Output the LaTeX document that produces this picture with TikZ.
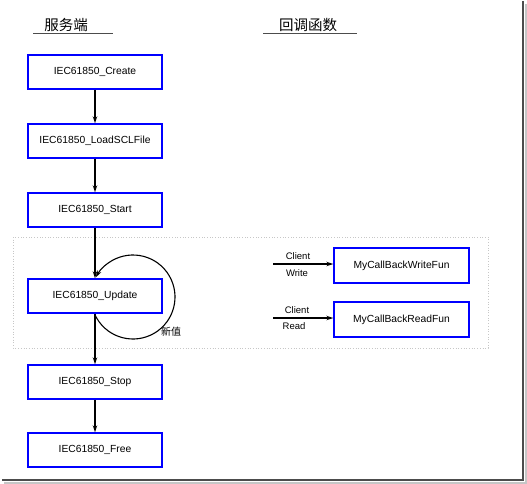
\documentclass[tikz,border=0pt]{standalone}
\usepackage{fontspec}
\setmainfont{Liberation Sans}
\newfontfamily\cjk{Noto Sans CJK SC}
\usetikzlibrary{arrows.meta}
\begin{document}
\begin{tikzpicture}[x=1pt,y=-1pt,
  fn/.style={draw=blue,line width=1.4pt,fill=white,minimum width=134pt,minimum height=34pt,
    inner sep=0pt,font=\fontsize{10.3}{12}\selectfont},
  cb/.style={fn,minimum width=135pt,minimum height=35pt},
  flow/.style={line width=1.1pt,-{Stealth[length=7pt,width=4.5pt]}},
  lbl/.style={inner sep=0pt,font=\fontsize{9.5}{11}\selectfont},
  head/.style={inner sep=0pt,font=\cjk\fontsize{14.5}{16}\selectfont}]
\useasboundingbox (0,0) rectangle (527,484);
\fill[white] (0,0) rectangle (527,484);
% picture frame with shadow on the right and bottom
\draw[gray!45,line width=1.5pt] (526,4) -- (526,483) -- (4,483);
\draw[black!70,line width=1.5pt] (523,1) -- (523,480) -- (2,480);

% headings
\node[head] (hsrv) at (66,25) {服务端};
\draw[black!70,line width=0.6pt] (33,33) -- (113,33);
\node[head] (hcb) at (308,25) {回调函数};
\draw[black!70,line width=0.6pt] (263,33) -- (357,33);

% runtime group
\draw[black!22,dotted,line width=0.7pt] (13,237) rectangle (488,348);

% server call sequence
\node[fn] (create) at (95,72) {IEC61850\_Create};
\node[fn] (load) at (95,141) {IEC61850\_LoadSCLFile};
\node[fn] (start) at (95,210) {IEC61850\_Start};
\coordinate (loopc) at (133,297);
% update loop, drawn first so the box hides its left part
\draw[flow] ([shift={(155:42)}]loopc) arc[start angle=155,end angle=-152,radius=42];
\node[fn] (update) at (95,296) {IEC61850\_Update};
\node[fn] (stop) at (95,382) {IEC61850\_Stop};
\node[fn] (free) at (95,450) {IEC61850\_Free};

\draw[flow] (create) -- (load);
\draw[flow] (load) -- (start);
\draw[flow] (start) -- (update);
\draw[flow] (update) -- (stop);
\draw[flow] (stop) -- (free);

\node[inner sep=0pt,font=\cjk\fontsize{10}{11}\selectfont] (newval) at (171,332) {新值};

% callbacks
\node[cb] (wr) at (401.5,265.5) {MyCallBackWriteFun};
\node[cb] (rd) at (401.5,319.5) {MyCallBackReadFun};
\coordinate (wrin) at (273,264);
\coordinate (rdin) at (273,318);
\draw[flow] (wrin) -- (wrin -| wr.west);
\draw[flow] (rdin) -- (rdin -| rd.west);
\node[lbl] (wrc) at (298,256) {Client};
\node[lbl] (wrw) at (297,273) {Write};
\node[lbl] (rdc) at (297,310) {Client};
\node[lbl] (rdr) at (294,326) {Read};
\end{tikzpicture}
\end{document}
